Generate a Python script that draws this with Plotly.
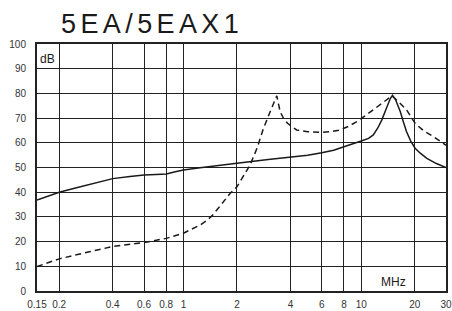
import math
import plotly.graph_objects as go

# Data (frequency in MHz, level in dB)
solid_x = [0.15, 0.2, 0.25, 0.3, 0.35, 0.4, 0.5, 0.6, 0.7, 0.8, 0.9, 1.0, 1.24, 1.5, 1.83, 2.0, 3.0, 4.0, 5.0, 6.0, 7.0, 8.0, 9.0, 10.0, 11.0, 11.7, 12.4, 13.05, 13.6, 14.2, 14.6, 15.0, 15.6, 16.1, 16.6, 17.3, 18.0, 19.0, 20.1, 21.5, 23.4, 26.5, 30.0]
solid_y = [36.8, 40.0, 41.8, 43.3, 44.5, 45.5, 46.4, 47.0, 47.2, 47.4, 48.3, 49.0, 49.9, 50.7, 51.4, 51.7, 53.2, 54.2, 55.0, 56.0, 57.0, 58.4, 59.5, 60.7, 61.8, 63.2, 66.0, 69.2, 72.5, 76.0, 78.0, 79.2, 77.5, 75.0, 72.6, 68.3, 64.5, 60.7, 57.8, 55.8, 53.7, 51.6, 50.0]

dash_x = [0.15, 0.2, 0.3, 0.4, 0.6, 0.8, 1.0, 1.12, 1.24, 1.35, 1.45, 1.57, 1.7, 1.83, 2.0, 2.2, 2.37, 2.6, 2.8, 3.05, 3.35, 3.5, 3.65, 3.85, 4.33, 5.0, 5.87, 6.7, 7.6, 8.5, 9.4, 10.7, 12.8, 14.9, 16.3, 18.0, 20.1, 22.5, 25.5, 30.0]
dash_y = [9.9, 13.0, 16.0, 18.0, 19.6, 21.3, 23.4, 25.0, 26.7, 28.5, 30.5, 33.5, 36.5, 39.5, 42.2, 47.0, 51.0, 58.0, 65.2, 72.0, 79.0, 72.6, 70.0, 67.9, 65.2, 64.5, 64.2, 64.5, 65.2, 66.7, 68.5, 71.3, 75.3, 79.0, 76.5, 73.3, 67.9, 64.8, 62.5, 59.0]

x_ticks = [0.15, 0.2, 0.4, 0.6, 0.8, 1, 2, 4, 6, 8, 10, 20, 30]
x_tick_labels = ["0.15", "0.2", "0.4", "0.6", "0.8", "1", "2", "4", "6", "8", "10", "20", "30"]
y_ticks = list(range(0, 101, 10))

title_text = "5EA/5EAX1"

fig = go.Figure()
fig.add_trace(go.Scatter(x=solid_x, y=solid_y, mode="lines", line=dict(color="#1a1a1a", width=1.5), hoverinfo="skip"))
fig.add_trace(go.Scatter(x=dash_x, y=dash_y, mode="lines", line=dict(color="#1a1a1a", width=1.5, dash="6px,4px"), hoverinfo="skip"))

axis_font = dict(family="Liberation Sans Narrow, Arial Narrow, Liberation Sans, sans-serif", size=10, color="#333333")

fig.update_xaxes(
    type="log", range=[math.log10(0.15), math.log10(30)],
    tickvals=x_ticks, ticktext=x_tick_labels, tickfont=axis_font,
    showgrid=True, gridcolor="#222222", gridwidth=1.3,
    showline=True, linecolor="#222222", linewidth=2, mirror=True,
    ticks="", ticklabelstandoff=3, zeroline=False, automargin=False,
    ticklabeloverflow="allow",
)
fig.update_yaxes(
    range=[0, 100], tickvals=y_ticks, tickfont=axis_font,
    showgrid=True, gridcolor="#222222", gridwidth=1.3,
    showline=True, linecolor="#222222", linewidth=2, mirror=True,
    ticks="", ticklabelstandoff=7, zeroline=False, automargin=False,
)

fig.add_annotation(text='<span style="letter-spacing:4.4px">' + title_text + '</span>',
                   xref="paper", yref="paper", x=(59 - 37) / 409, y=1 + (44 - 24) / 247,
                   xanchor="left", yanchor="middle", showarrow=False,
                   font=dict(family="Liberation Sans, Arial, sans-serif", size=27, color="#1a1a1a"))
fig.add_annotation(text="dB", xref="paper", yref="paper", x=(38 - 37) / 409, y=1 - (59 - 44) / 247,
                   xanchor="left", yanchor="middle", showarrow=False,
                   font=dict(family="Liberation Sans, Arial, sans-serif", size=12, color="#1a1a1a"))
fig.add_annotation(text="MHz", xref="paper", yref="paper", x=(393 - 37) / 409, y=(291 - 282) / 247,
                   xanchor="center", yanchor="middle", showarrow=False,
                   font=dict(family="Liberation Sans, Arial, sans-serif", size=12, color="#1a1a1a"))

fig.update_layout(
    width=452, height=311,
    margin=dict(l=37, r=6, t=44, b=20),
    paper_bgcolor="white", plot_bgcolor="white",
    showlegend=False,
)

# Remove the browser's default 8px body margin so the figure fills the window exactly.
fig.write_html("out.html", config={"displayModeBar": False},
               post_script="document.body.style.margin='0';document.body.style.overflow='hidden';")
